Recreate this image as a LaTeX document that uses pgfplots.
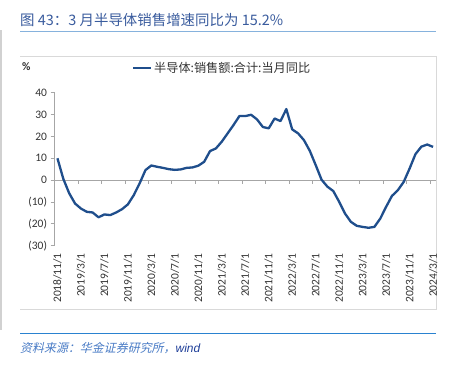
\documentclass[border=0pt]{standalone}
\usepackage{pgfplots}
\pgfplotsset{compat=1.18}
\usepackage{fontspec}
\setmainfont{Carlito}
\newfontfamily\cjk{Noto Sans CJK SC}
\newfontfamily\cjkit[FakeSlant=0.22]{Noto Sans CJK SC}
\newfontfamily\latit{Liberation Sans}
\definecolor{lineblue}{HTML}{1F4E8C}
\definecolor{titleblue}{HTML}{3A5C9E}
\definecolor{headerblue}{HTML}{86B2DD}
\definecolor{footblue}{HTML}{2A82D0}
\definecolor{foottext}{HTML}{4A7CC6}
\definecolor{windblue}{HTML}{1F3F99}
\definecolor{tickgray}{HTML}{333333}
\definecolor{axisgray}{HTML}{A6A6A6}
\begin{document}
\begin{tikzpicture}[x=1bp,y=1bp]
\useasboundingbox (0,0) rectangle (453,372);
\fill[white] (0,0) rectangle (453,372);
\fill[black!18] (0,42) rectangle (2,342);
\node[anchor=west, text=titleblue, font=\cjk\fontsize{14.5}{16}\selectfont, inner sep=0pt] at (20,352) {图 43：3 月半导体销售增速同比为 15.2\%};
\draw[headerblue, line width=1.2bp] (20,340.5) -- (436,340.5);
\draw[black!15, line width=0.8bp] (20,316) -- (436,316) -- (436,63) -- (20,63);
\draw[footblue, line width=1.2bp] (20,38.5) -- (436,38.5);
\node[anchor=west, inner sep=0pt, font=\fontsize{12}{14}\selectfont] at (20,24) {{\cjkit\color{foottext}资料来源：华金证券研究所，}{\latit\itshape\color{windblue}wind}};
\node[anchor=west, inner sep=0pt, text=tickgray, font=\fontsize{11.5}{13}\selectfont\bfseries] at (22,305.3) {\%};
\begin{axis}[
  at={(54.5bp,126.3bp)}, anchor=south west,
  scale only axis, width=381.5bp, height=153bp,
  xmin=-0.5, xmax=64.5, ymin=-30, ymax=40,
  axis y line*=left, axis x line*=bottom,
  x axis line style={draw=none},
  y axis line style={axisgray, line width=0.8bp},
  xtick={0,4,...,64},
  xticklabels={2018/11/1,2019/3/1,2019/7/1,2019/11/1,2020/3/1,2020/7/1,2020/11/1,2021/3/1,2021/7/1,2021/11/1,2022/3/1,2022/7/1,2022/11/1,2023/3/1,2023/7/1,2023/11/1,2024/3/1},
  xtick style={draw=none},
  ytick={-30,-20,...,40},
  yticklabels={(30),(20),(10),0,10,20,30,40},
  ytick style={axisgray, line width=0.8bp},
  tick align=outside, major tick length=4bp,
  xticklabel style={rotate=90, anchor=east, font=\fontsize{11.5}{13}\selectfont, text=tickgray},
  yticklabel style={font=\fontsize{11.5}{13}\selectfont, text=tickgray},
  clip=false,
  legend style={at={(0.2024,1.1595)}, anchor=west, draw=none, fill=none, inner sep=0pt, font=\cjk\fontsize{12.2}{14}\selectfont, text=tickgray},
  legend image code/.code={\draw[#1] (0bp,0bp) -- (18bp,0bp);},
]
\draw[axisgray, line width=0.8bp] (axis cs:-0.5,0) -- (axis cs:64.5,0);
\pgfplotsinvokeforeach{0,...,15}{
  \draw[axisgray, line width=0.8bp] (axis cs:{4*#1+3.5},0) -- ([yshift=-4bp]axis cs:{4*#1+3.5},0);
}
\addplot[lineblue, line width=2.3bp, line join=round] coordinates {
(0,10) (1,0.6) (2,-6) (3,-10.7) (4,-13) (5,-14.5) (6,-14.8) (7,-17) (8,-15.7) (9,-16)
(10,-14.8) (11,-13.3) (12,-11.1) (13,-6.9) (14,-1.5) (15,4.6) (16,6.7) (17,6.1) (18,5.6) (19,5.0)
(20,4.7) (21,4.9) (22,5.6) (23,5.8) (24,6.6) (25,8.4) (26,13.3) (27,14.5) (28,17.6) (29,21.4)
(30,25.2) (31,29.3) (32,29.3) (33,29.9) (34,27.8) (35,24.3) (36,23.7) (37,28.2) (38,27.0) (39,32.5)
(40,23.2) (41,21.4) (42,18.3) (43,13.4) (44,6.9) (45,0.2) (46,-3) (47,-5) (48,-9.9) (49,-15.3)
(50,-19.1) (51,-20.9) (52,-21.4) (53,-21.8) (54,-21.4) (55,-17.6) (56,-12.2) (57,-7.2) (58,-4.6) (59,-0.8)
(60,5.3) (61,11.9) (62,15.3) (63,16.3) (64,15.2)
};
\addlegendentry{半导体:销售额:合计:当月同比}
\end{axis}
\end{tikzpicture}
\end{document}
